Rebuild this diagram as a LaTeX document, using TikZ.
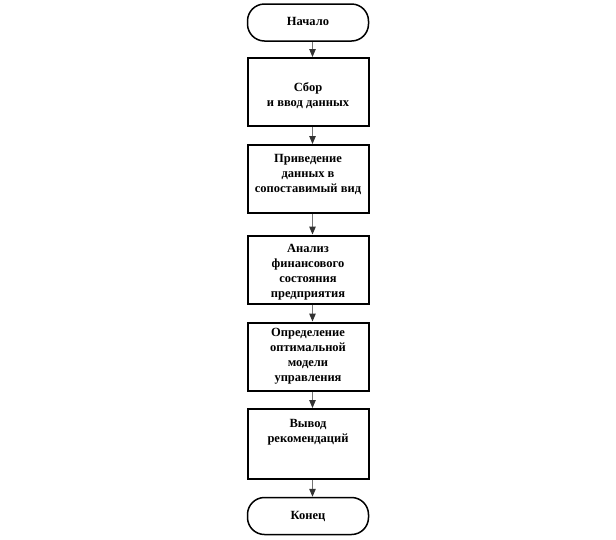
\documentclass[tikz,border=0pt]{standalone}
\usepackage{fontspec}
\setmainfont{Liberation Serif}
\usetikzlibrary{arrows.meta}
\begin{document}
\begin{tikzpicture}[x=1pt,y=-1pt,
  term/.style={draw=black,line width=1.5pt,rounded corners=17pt,minimum width=121pt,minimum height=37pt,inner sep=0pt},
  procbox/.style={draw=black,line width=2pt,minimum width=121pt,minimum height=68pt,inner sep=0pt},
  lbl/.style={font=\fontsize{12.5}{15}\selectfont\bfseries,align=center,inner sep=0pt},
  arr/.style={draw=black!55,line width=1pt,-{Triangle[length=8pt,width=6.5pt,fill=black!80,color=black!80]}}]
\useasboundingbox (0,0) rectangle (616,539);
\node[term] (start) at (308,22.5) {};
\node[procbox] (b1) at (308,92) {};
\node[procbox] (b2) at (308,179) {};
\node[procbox] (b3) at (308,269.5) {};
\node[procbox] (b4) at (308,356.5) {};
\node[procbox,minimum height=70pt] (b5) at (308,444) {};
\node[term] (stop) at (308,516) {};
\node[lbl] (t0) at (308,21) {Начало};
\node[lbl] (t1) at (308,96) {Сбор\\и ввод данных};
\node[lbl] (t2) at (308,174) {Приведение\\данных в\\сопоставимый вид};
\node[lbl] (t3) at (308,272) {Анализ\\финансового\\состояния\\предприятия};
\node[lbl] (t4) at (308,356) {Определение\\оптимальной\\модели\\управления};
\node[lbl] (t5) at (308,432) {Вывод\\рекомендаций};
\node[lbl] (t6) at (308,516) {Конец};
\draw[arr] ([xshift=4.5pt]start.south) -- ([xshift=4.5pt]b1.north);
\draw[arr] ([xshift=4.5pt]b1.south) -- ([xshift=4.5pt]b2.north);
\draw[arr] ([xshift=4.5pt]b2.south) -- ([xshift=4.5pt]b3.north);
\draw[arr] ([xshift=4.5pt]b3.south) -- ([xshift=4.5pt]b4.north);
\draw[arr] ([xshift=4.5pt]b4.south) -- ([xshift=4.5pt]b5.north);
\draw[arr] ([xshift=4.5pt]b5.south) -- ([xshift=4.5pt]stop.north);
\end{tikzpicture}
\end{document}
